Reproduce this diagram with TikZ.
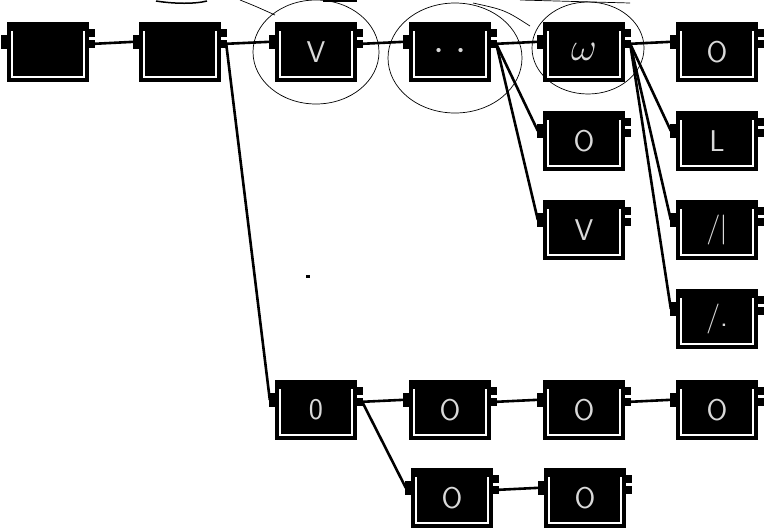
\documentclass[tikz,border=0pt]{standalone}
\usetikzlibrary{calc}
\tikzset{
	blk/.style ={rectangle, fill=black, minimum width=82pt, minimum height=60pt, inner sep=0pt, text=white!85!black, font=\sffamily\fontsize{30}{30}\selectfont,
		path picture={\draw[white, line width=1.1pt] ([shift={(5pt,-9pt)}]path picture bounding box.north west) |- ([shift={(-5pt,5pt)}]path picture bounding box.south east) -- ([shift={(-5pt,-9pt)}]path picture bounding box.north east);}},
	wire/.style={line width=2.6pt, line cap=round},
	ring/.style={line width=0.7pt},
}
% block with its three port tabs and named in/out points
\newcommand{\blockat}[3]{%
	\node[blk] (#1) at (#2) {#3};
	\fill ([shift={(-6pt,-13pt)}]#1.north west) rectangle ([shift={(0pt,-27pt)}]#1.north west);
	\fill ([shift={(0pt,-7pt)}]#1.north east) rectangle ([shift={(6pt,-15pt)}]#1.north east);
	\fill ([shift={(0pt,-18pt)}]#1.north east) rectangle ([shift={(6pt,-26pt)}]#1.north east);
	\coordinate (#1-in) at ([shift={(-5pt,-20pt)}]#1.north west);
	\coordinate (#1-out) at ([shift={(5pt,-22pt)}]#1.north east);
}

\begin{document}
\begin{tikzpicture}[x=1pt, y=-1pt]
	\useasboundingbox[fill=white] (0,0) rectangle (770,531);
	% top row
	\blockat{ba}{48,52}{}
	\blockat{bb}{180,52}{}
	\blockat{bv}{316,52}{V}
	\blockat{bd}{450,52}{\scalebox{1.6}{$\cdot\;\cdot$}}
	\blockat{bw}{584,52}{\scalebox{1.6}{$\omega$}}
	\blockat{bo}{717,52}{O}
	% branch below the dotted block
	\blockat{ca}{584,141}{O}
	\blockat{cv}{584,230}{V}
	% branch below the omega block
	\blockat{da}{717,141}{L}
	\blockat{db}{717,230}{/\kern-1pt|}
	\blockat{dc}{717,319}{/.}
	% lower chain
	\blockat{ea}{316,410}{0}
	\blockat{eb}{450,410}{O}
	\blockat{ec}{584,410}{O}
	\blockat{ed}{717,410}{O}
	\blockat{fa}{452,498}{O}
	\blockat{fb}{585,498}{O}
	% connectors
	\draw[wire] (ba-out) -- (bb-in);
	\draw[wire] (bb-out) -- (bv-in);
	\draw[wire] (bv-out) -- (bd-in);
	\draw[wire] (bd-out) -- (bw-in);
	\draw[wire] (bw-out) -- (bo-in);
	\draw[wire] (bb-out) -- (ea-in);
	\draw[wire] (bd-out) -- (ca-in);
	\draw[wire] (bd-out) -- (cv-in);
	\draw[wire] (bw-out) -- (da-in);
	\draw[wire] (bw-out) -- (db-in);
	\draw[wire] (bw-out) -- (dc-in);
	\draw[wire] (ea-out) -- (eb-in);
	\draw[wire] (ea-out) -- (fa-in);
	\draw[wire] (eb-out) -- (ec-in);
	\draw[wire] (ec-out) -- (ed-in);
	\draw[wire] (fa-out) -- (fb-in);
	% hand drawn rings
	\draw[ring] (bv) ellipse[x radius=63, y radius=52];
	\draw[ring] (bd) ++(5,6) ellipse[x radius=67, y radius=55];
	\draw[ring] (bw) ++(4,-4) ellipse[x radius=56, y radius=46];
	\draw[ring] (240,0) .. controls (255,6) .. (275,15);
	\draw[line width=1.5pt] (156,1) .. controls (175,4) and (195,4) .. (207,1);
	\draw[line width=2pt] (323,1) -- (357,1);
	\draw[ring] (473,3) .. controls (505,10) .. (530,26);
	\draw[ring] (520,0) -- (630,3);
	\fill (306,275) rectangle (310,278);
\end{tikzpicture}
\end{document}
